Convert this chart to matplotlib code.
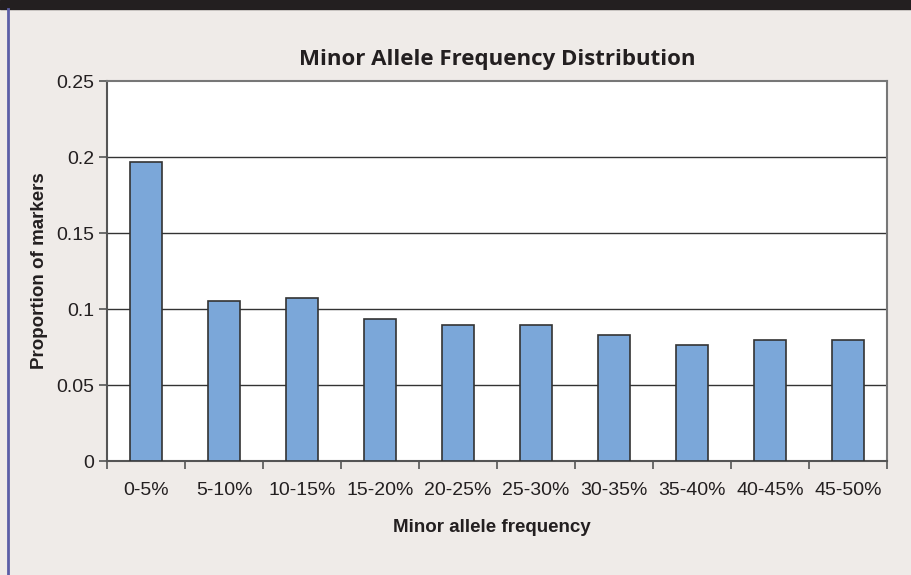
import matplotlib
matplotlib.use("Agg")
import matplotlib.pyplot as plt
from matplotlib.patches import Rectangle
from matplotlib.lines import Line2D

categories = ["0-5%", "5-10%", "10-15%", "15-20%", "20-25%", "25-30%",
              "30-35%", "35-40%", "40-45%", "45-50%"]
values = [0.197, 0.105, 0.107, 0.0934, 0.0897, 0.0897, 0.0829, 0.0763, 0.0798, 0.0798]
yticks = [0, 0.05, 0.1, 0.15, 0.2, 0.25]
ytick_labels = ["0", "0.05", "0.1", "0.15", "0.2", "0.25"]

W, H = 912, 575
bg = "#efebe8"
fig = plt.figure(figsize=(W / 100, H / 100), dpi=100, facecolor=bg)

# header band and left border
fig.patches.append(Rectangle((0, 1 - 9 / H), 1, 9 / H, transform=fig.transFigure,
                             color="#231f20", zorder=0))
fig.lines.append(Line2D([8 / W, 8 / W], [0, 1 - 9 / H], transform=fig.transFigure,
                        color="#5b5ea6", lw=2))

left, right, top, bottom = 107, 887, 81, 461
ax = fig.add_axes([left / W, 1 - bottom / H, (right - left) / W, (bottom - top) / H])
ax.set_facecolor("white")

x = list(range(len(categories)))
ax.bar(x, values, width=0.41, color="#7ba7d9", edgecolor="#333333", linewidth=1.2, zorder=3)

ax.set_xlim(-0.5, len(categories) - 0.5)
ax.set_ylim(0, 0.25)
ax.set_yticks(yticks)
ax.set_yticklabels(ytick_labels, fontfamily="Liberation Sans", fontsize=14, color="#231f20")
ax.set_xticks(x)
ax.set_xticklabels(categories, fontfamily="Liberation Sans", fontsize=14, color="#231f20")
ax.tick_params(axis="x", length=0, pad=15)
ax.set_xticks([i - 0.5 for i in range(len(categories) + 1)], minor=True)
ax.tick_params(axis="x", which="minor", length=6, color="#555555", width=1.2, direction="out")
ax.tick_params(axis="y", length=6, color="#555555", width=1.2, direction="out", pad=3)

for yv in yticks[1:-1]:
    ax.axhline(yv, color="#333333", lw=1.0, zorder=1)

for s in ["top", "right"]:
    ax.spines[s].set_color("#777777")
    ax.spines[s].set_linewidth(1.5)
for s in ["left", "bottom"]:
    ax.spines[s].set_color("#555555")
    ax.spines[s].set_linewidth(1.5)

fig.text(497 / W, 1 - 59 / H, "Minor Allele Frequency Distribution", ha="center", va="center",
         fontfamily="Open Sans", fontweight="bold", fontsize=16, color="#231f20")
fig.text(492 / W, 1 - 527 / H, "Minor allele frequency", ha="center", va="center",
         fontfamily="Liberation Sans", fontweight="bold", fontsize=13.5, color="#231f20")
fig.text(40 / W, 1 - 271 / H, "Proportion of markers", ha="center", va="center", rotation=90,
         fontfamily="Liberation Sans", fontweight="bold", fontsize=13.5, color="#231f20")

fig.savefig("out.png", dpi=100, facecolor=bg)
